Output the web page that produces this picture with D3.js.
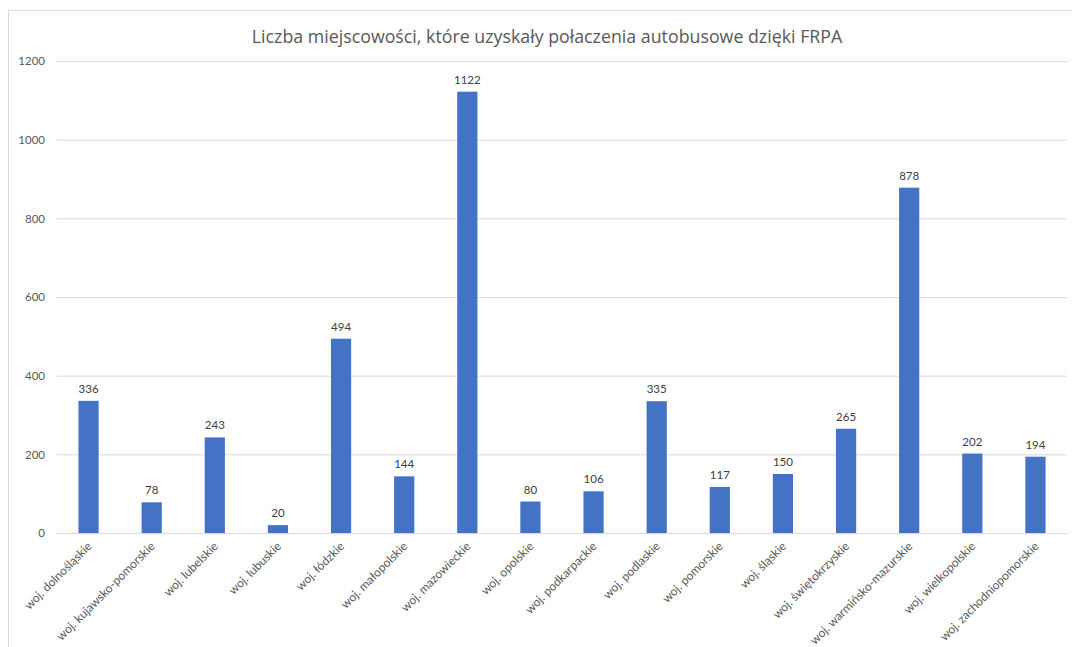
<!DOCTYPE html>
<html>
<head>
<meta charset="utf-8">
<script src="https://cdn.jsdelivr.net/npm/d3@7"></script>
<style>
  body { margin:0; background:#fff; }
  svg { font-family: Lato, "Open Sans", sans-serif; }
</style>
</head>
<body>
<svg id="chart" width="1072" height="647"></svg>
<script>
const categories = ["woj. dolnośląskie","woj. kujawsko-pomorskie","woj. lubelskie","woj. lubuskie","woj. łódzkie","woj. małopolskie","woj. mazowieckie","woj. opolskie","woj. podkarpackie","woj. podlaskie","woj. pomorskie","woj. śląskie","woj. świętokrzyskie","woj. warmińsko-mazurskie","woj. wielkopolskie","woj. zachodniopomorskie"];
const values = [336,78,243,20,494,144,1122,80,106,335,117,150,265,878,202,194];
const yTicks = [0,200,400,600,800,1000,1200];
const title = "Liczba miejscowości, które uzyskały połaczenia autobusowe dzięki FRPA";

const width = 1072, height = 647;
const margin = {top:61, right:5, bottom:114, left:57};
const svg = d3.select("#chart");

// chart area border
svg.append("rect")
  .attr("x", 8.5).attr("y", 10.5)
  .attr("width", width + 20).attr("height", height + 20)
  .attr("fill", "none").attr("stroke", "#d9d9d9");

const x = d3.scaleBand(categories, [margin.left, width - margin.right]).paddingInner(0.68).paddingOuter(0.34);
const y = d3.scaleLinear([0, 1200], [height - margin.bottom, margin.top]);

svg.append("text")
  .attr("x", 547).attr("y", 43)
  .attr("text-anchor", "middle")
  .attr("font-family", "Open Sans")
  .attr("font-size", 17.8)
  .attr("fill", "#595959")
  .text(title);

const yAxis = d3.axisLeft(y).tickValues(yTicks).tickFormat(d3.format("d"))
  .tickSize(-(width - margin.right - margin.left)).tickPadding(12);
svg.append("g")
  .attr("transform", `translate(${margin.left},0)`)
  .call(yAxis)
  .call(g => g.select(".domain").remove())
  .call(g => g.selectAll(".tick line").attr("stroke", "#d9d9d9"))
  .call(g => g.selectAll(".tick text").attr("fill", "#595959").attr("font-size", 11.5).attr("font-family", "Lato"));

svg.append("g")
  .selectAll("rect")
  .data(values)
  .join("rect")
    .attr("x", (d, i) => x(categories[i]))
    .attr("y", d => y(d))
    .attr("width", x.bandwidth())
    .attr("height", d => y(0) - y(d))
    .attr("fill", "#4472c4");

svg.append("g")
  .selectAll("text")
  .data(values)
  .join("text")
    .attr("x", (d, i) => x(categories[i]) + x.bandwidth() / 2)
    .attr("y", d => y(d) - 8)
    .attr("text-anchor", "middle")
    .attr("font-size", 11.5)
    .attr("fill", "#404040")
    .text(d => d);

const xAxis = d3.axisBottom(x).tickSize(0).tickPadding(0);
svg.append("g")
  .attr("transform", `translate(0,${y(0)})`)
  .call(xAxis)
  .call(g => g.select(".domain").attr("stroke", "#d9d9d9"))
  .call(g => g.selectAll(".tick text")
    .attr("font-size", 12)
    .attr("font-family", "Lato")
    .attr("fill", "#595959")
    .attr("text-anchor", "end")
    .attr("dy", 0)
    .attr("transform", "translate(4,14) rotate(-45)"));
</script>
</body>
</html>
